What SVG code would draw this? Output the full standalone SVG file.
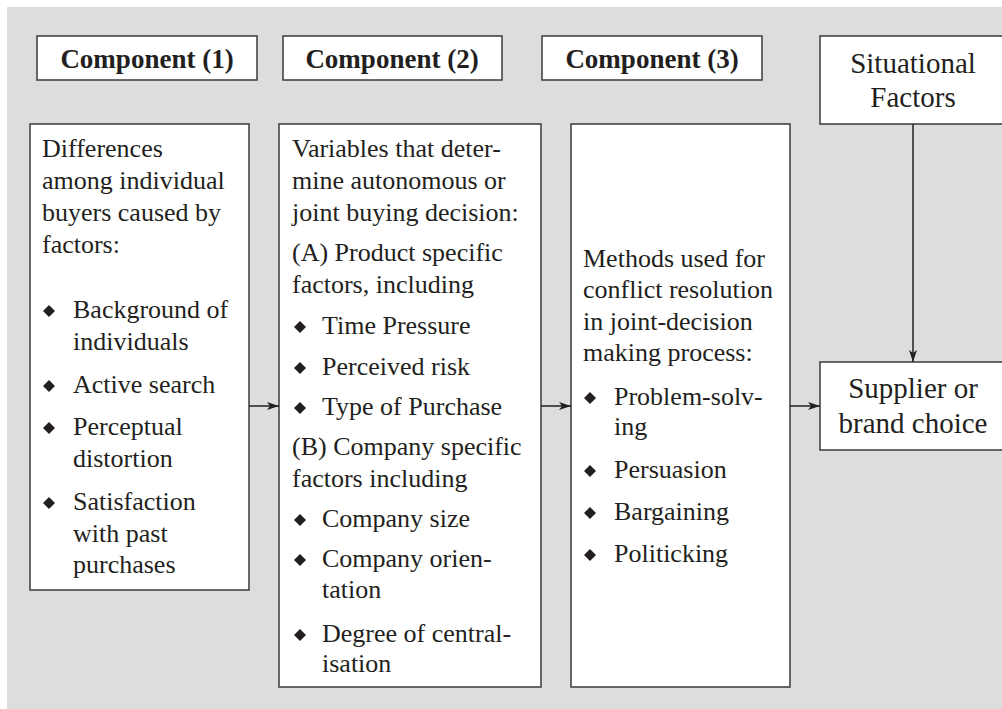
<svg xmlns="http://www.w3.org/2000/svg" width="1002" height="709" viewBox="0 0 1002 709">
  <style>
    .box { fill: #ffffff; stroke: #3a3a3a; stroke-width: 1.5; }
    .txt { font-family: "Liberation Serif", "Times New Roman", serif; font-size: 26px; fill: #231f20; }
    .head { font-family: "Liberation Serif", "Times New Roman", serif; font-size: 27px; font-weight: bold; fill: #231f20; text-anchor: middle; }
    .big { font-family: "Liberation Serif", "Times New Roman", serif; font-size: 29px; fill: #231f20; text-anchor: middle; }
    .edge { stroke: #231f20; stroke-width: 1.5; fill: none; }
  </style>
  <defs>
    <marker id="arrow" viewBox="0 0 12 8" refX="12" refY="4" markerWidth="12" markerHeight="8" markerUnits="userSpaceOnUse" orient="auto">
      <path d="M0,0 L12,4 L0,8 L3,4 Z" fill="#231f20"/>
    </marker>
    <path id="dia" d="M0,-6 L6,0 L0,6 L-6,0 Z" fill="#231f20"/>
  </defs>

  <!-- panel background -->
  <rect x="7" y="7" width="995" height="702" fill="#dcdddf"/>

  <!-- column headings -->
  <g id="head1">
    <rect class="box" x="37" y="36" width="220" height="44"/>
    <text class="head" x="147" y="68">Component (1)</text>
  </g>
  <g id="head2">
    <rect class="box" x="283" y="36" width="219" height="44"/>
    <text class="head" x="392" y="68">Component (2)</text>
  </g>
  <g id="head3">
    <rect class="box" x="542" y="36" width="220" height="44"/>
    <text class="head" x="652" y="68">Component (3)</text>
  </g>

  <!-- situational factors -->
  <g id="situational">
    <rect class="box" x="820" y="36" width="190" height="88"/>
    <text class="big" x="913" y="73">Situational</text>
    <text class="big" x="913" y="107">Factors</text>
  </g>

  <!-- component 1 -->
  <g id="comp1" class="txt">
    <rect class="box" x="30" y="124" width="219" height="466"/>
    <text x="42" y="157">Differences</text>
    <text x="42" y="189">among individual</text>
    <text x="42" y="221">buyers caused by</text>
    <text x="42" y="253">factors:</text>
    <use href="#dia" x="49" y="311"/>
    <text x="73" y="318">Background of</text>
    <text x="73" y="350">individuals</text>
    <use href="#dia" x="49" y="386"/>
    <text x="73" y="393">Active search</text>
    <use href="#dia" x="49" y="428"/>
    <text x="73" y="435">Perceptual</text>
    <text x="73" y="467">distortion</text>
    <use href="#dia" x="49" y="503"/>
    <text x="73" y="510">Satisfaction</text>
    <text x="73" y="542">with past</text>
    <text x="73" y="573">purchases</text>
  </g>

  <!-- component 2 -->
  <g id="comp2" class="txt">
    <rect class="box" x="279" y="124" width="262" height="563"/>
    <text x="292" y="157">Variables that deter-</text>
    <text x="292" y="189">mine autonomous or</text>
    <text x="292" y="221">joint buying decision:</text>
    <text x="292" y="261">(A) Product specific</text>
    <text x="292" y="293">factors, including</text>
    <use href="#dia" x="300" y="327"/>
    <text x="322" y="334">Time Pressure</text>
    <use href="#dia" x="300" y="368"/>
    <text x="322" y="375">Perceived risk</text>
    <use href="#dia" x="300" y="408"/>
    <text x="322" y="415">Type of Purchase</text>
    <text x="292" y="455">(B) Company specific</text>
    <text x="292" y="487">factors including</text>
    <use href="#dia" x="300" y="520"/>
    <text x="322" y="527">Company size</text>
    <use href="#dia" x="300" y="560"/>
    <text x="322" y="567">Company orien-</text>
    <text x="322" y="598">tation</text>
    <use href="#dia" x="300" y="635"/>
    <text x="322" y="642">Degree of central-</text>
    <text x="322" y="672">isation</text>
  </g>

  <!-- component 3 -->
  <g id="comp3" class="txt">
    <rect class="box" x="571" y="124" width="219" height="563"/>
    <text x="583" y="267">Methods used for</text>
    <text x="583" y="298">conflict resolution</text>
    <text x="583" y="330">in joint-decision</text>
    <text x="583" y="361">making process:</text>
    <use href="#dia" x="590" y="398"/>
    <text x="614" y="405">Problem-solv-</text>
    <text x="614" y="435">ing</text>
    <use href="#dia" x="590" y="471"/>
    <text x="614" y="478">Persuasion</text>
    <use href="#dia" x="590" y="513"/>
    <text x="614" y="520">Bargaining</text>
    <use href="#dia" x="590" y="555"/>
    <text x="614" y="562">Politicking</text>
  </g>

  <!-- outcome -->
  <g id="outcome">
    <rect class="box" x="820" y="362" width="190" height="88"/>
    <text class="big" x="913" y="398">Supplier or</text>
    <text class="big" x="913" y="433">brand choice</text>
  </g>

  <!-- connectors -->
  <g id="connectors">
    <line class="edge" x1="249" y1="406" x2="279" y2="406" marker-end="url(#arrow)"/>
    <line class="edge" x1="541" y1="406" x2="571" y2="406" marker-end="url(#arrow)"/>
    <line class="edge" x1="790" y1="406" x2="820" y2="406" marker-end="url(#arrow)"/>
    <line class="edge" x1="913" y1="124" x2="913" y2="362" marker-end="url(#arrow)"/>
  </g>
</svg>
